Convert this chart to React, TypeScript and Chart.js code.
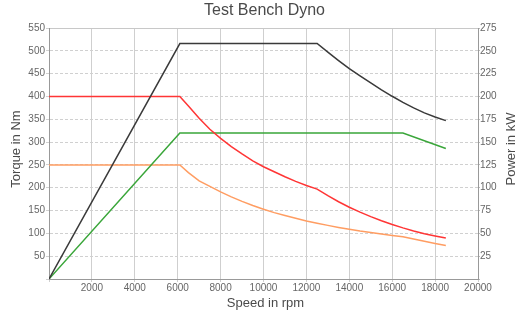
import React, { useEffect, useRef } from "react";
import { Chart, registerables } from "chart.js";

Chart.register(...registerables);

const chartTitle = "Test Bench Dyno";
const xTitle = "Speed in rpm";
const yLeftTitle = "Torque in Nm";
const yRightTitle = "Power in kW";

// Black: power (kW, right axis)
const blackRpm = [0, 6100, 12500, 13000, 13500, 14000, 14500, 15000, 15500, 16000, 16500, 17000, 17500, 18000, 18500];
const blackKw = [0, 258, 258, 248.5, 239.3, 230.5, 222.5, 214.8, 207.3, 200.2, 193.5, 187.5, 182, 177.5, 173.5];

// Red: torque (Nm, left axis)
const redRpm = [0, 6100, 6500, 7000, 7500, 8000, 8500, 9000, 9500, 10000, 10500, 11000, 11500, 12000, 12500, 13000, 13500, 14000, 14500, 15000, 15500, 16000, 16500, 17000, 17500, 18000, 18500];
const redNm = [400, 400, 379, 352, 328, 308, 290, 274, 259, 246, 235, 224, 214, 205, 197, 182.5, 169.3, 157.2, 146.5, 136.7, 127.7, 119.5, 112, 105.3, 99.3, 94.2, 89.6];

// Green: power (kW, right axis)
const greenRpm = [0, 6100, 16500, 18500];
const greenKw = [0, 160, 160, 143];

// Orange: torque (Nm, left axis)
const orangeRpm = [0, 6100, 6500, 7000, 7500, 8000, 8500, 9000, 9500, 10000, 10500, 11000, 11500, 12000, 12500, 13000, 13500, 14000, 14500, 15000, 15500, 16000, 16500, 17000, 17500, 18000, 18500];
const orangeNm = [250, 250, 233, 215, 203, 191, 180, 170, 161, 153, 145.5, 139, 133, 127, 122, 117.5, 113, 109, 105, 102, 98.5, 95.5, 92.5, 87.5, 82.7, 78, 73.5];

const xMin = 0;
const xMax = 20000;
const xStep = 2000;
const yLeftMax = 550;
const yLeftStep = 50;
const yRightMax = 275;
const yRightStep = 25;

const FONT = "'Liberation Sans', Arial, sans-serif";

const pts = (xs: number[], ys: number[]) => xs.map((x, i) => ({ x, y: ys[i] }));

export default function App() {
  const ref = useRef<HTMLCanvasElement | null>(null);

  useEffect(() => {
    if (!ref.current) return;

    const titlesPlugin = {
      id: "customTitles",
      beforeDatasetsDraw(chart: any) {
        const { ctx, chartArea } = chart;
        ctx.save();
        ctx.setLineDash([]);
        ctx.strokeStyle = "#c8c8c8";
        ctx.lineWidth = 1;
        ctx.beginPath();
        ctx.moveTo(chartArea.left, Math.round(chartArea.top) + 0.5);
        ctx.lineTo(chartArea.right, Math.round(chartArea.top) + 0.5);
        ctx.stroke();
        ctx.strokeStyle = "#999";
        ctx.beginPath();
        ctx.moveTo(Math.round(chartArea.left) + 0.5, chartArea.top);
        ctx.lineTo(Math.round(chartArea.left) + 0.5, chartArea.bottom);
        ctx.stroke();
        ctx.restore();
      },
      afterDraw(chart: any) {
        const { ctx, chartArea } = chart;
        const cx = (chartArea.left + chartArea.right) / 2;
        ctx.save();
        ctx.fillStyle = "#4a4a4a";
        ctx.textAlign = "center";
        ctx.textBaseline = "middle";
        ctx.font = `16px ${FONT}`;
        ctx.fillText(chartTitle, cx + 1, 11);
        ctx.font = `13px ${FONT}`;
        ctx.fillText(xTitle, cx + 2, 303);
        ctx.save();
        ctx.translate(16.5, 149);
        ctx.rotate(-Math.PI / 2);
        ctx.fillText(yLeftTitle, 0, 0);
        ctx.restore();
        ctx.save();
        ctx.translate(511.5, 149);
        ctx.rotate(-Math.PI / 2);
        ctx.fillText(yRightTitle, 0, 0);
        ctx.restore();
        ctx.restore();
      },
    };

    const line = (label: string, data: any[], color: string, axis: string) => ({
      label,
      data,
      yAxisID: axis,
      borderColor: color,
      backgroundColor: color,
      borderWidth: 1.5,
      pointRadius: 0,
      tension: 0,
      fill: false,
    });

    const chart = new Chart(ref.current, {
      type: "line",
      data: {
        datasets: [
          line("Power A", pts(blackRpm, blackKw), "#3a3a3a", "y1"),
          line("Torque A", pts(redRpm, redNm), "#ff3535", "y"),
          line("Power B", pts(greenRpm, greenKw), "#3aa63a", "y1"),
          line("Torque B", pts(orangeRpm, orangeNm), "#ff9d62", "y"),
        ],
      },
      options: {
        responsive: false,
        animation: false,
        layout: { padding: { top: 28, left: 0, right: 0, bottom: 0 } },
        plugins: {
          legend: { display: false },
          title: { display: false },
          tooltip: { enabled: false },
        },
        scales: {
          x: {
            type: "linear",
            min: xMin,
            max: xMax,
            afterFit: (s: any) => {
              s.height = 33;
            },
            ticks: {
              stepSize: xStep,
              padding: 0,
              color: "#666",
              font: { family: FONT, size: 10 },
              maxRotation: 0,
              autoSkip: false,
              callback: (v: any) => (v === 0 ? "" : String(v)),
            },
            grid: {
              color: "#cfcfcf",
              lineWidth: 1,
              drawTicks: true,
              tickLength: 3,
            },
            border: { color: "#999", width: 1 },
          },
          y: {
            type: "linear",
            position: "left",
            min: 0,
            max: yLeftMax,
            afterFit: (s: any) => {
              s.width = 49;
            },
            ticks: {
              stepSize: yLeftStep,
              padding: 1,
              color: "#666",
              font: { family: FONT, size: 10 },
              callback: (v: any) => (v === 0 ? "" : String(v)),
            },
            grid: {
              color: "#d0d0d0",
              lineWidth: 1,
              drawTicks: true,
              tickLength: 3,
            },
            border: { color: "#999", width: 1, dash: [3, 2] },
          },
          y1: {
            type: "linear",
            position: "right",
            min: 0,
            max: yRightMax,
            afterFit: (s: any) => {
              s.width = 41;
            },
            ticks: {
              stepSize: yRightStep,
              padding: 0,
              color: "#666",
              font: { family: FONT, size: 10 },
              callback: (v: any) => (v === 0 ? "" : String(v)),
            },
            grid: {
              drawOnChartArea: false,
              color: "#bbb",
              drawTicks: true,
              tickLength: 2,
            },
            border: { color: "#999", width: 1 },
          },
        },
      },
      plugins: [titlesPlugin],
    } as any);

    return () => chart.destroy();
  }, []);

  return (
    <div style={{ position: "fixed", left: 0, top: 0, width: 519, height: 312, background: "#fff" }}>
      <canvas ref={ref} width={519} height={312} style={{ display: "block" }} />
    </div>
  );
}
